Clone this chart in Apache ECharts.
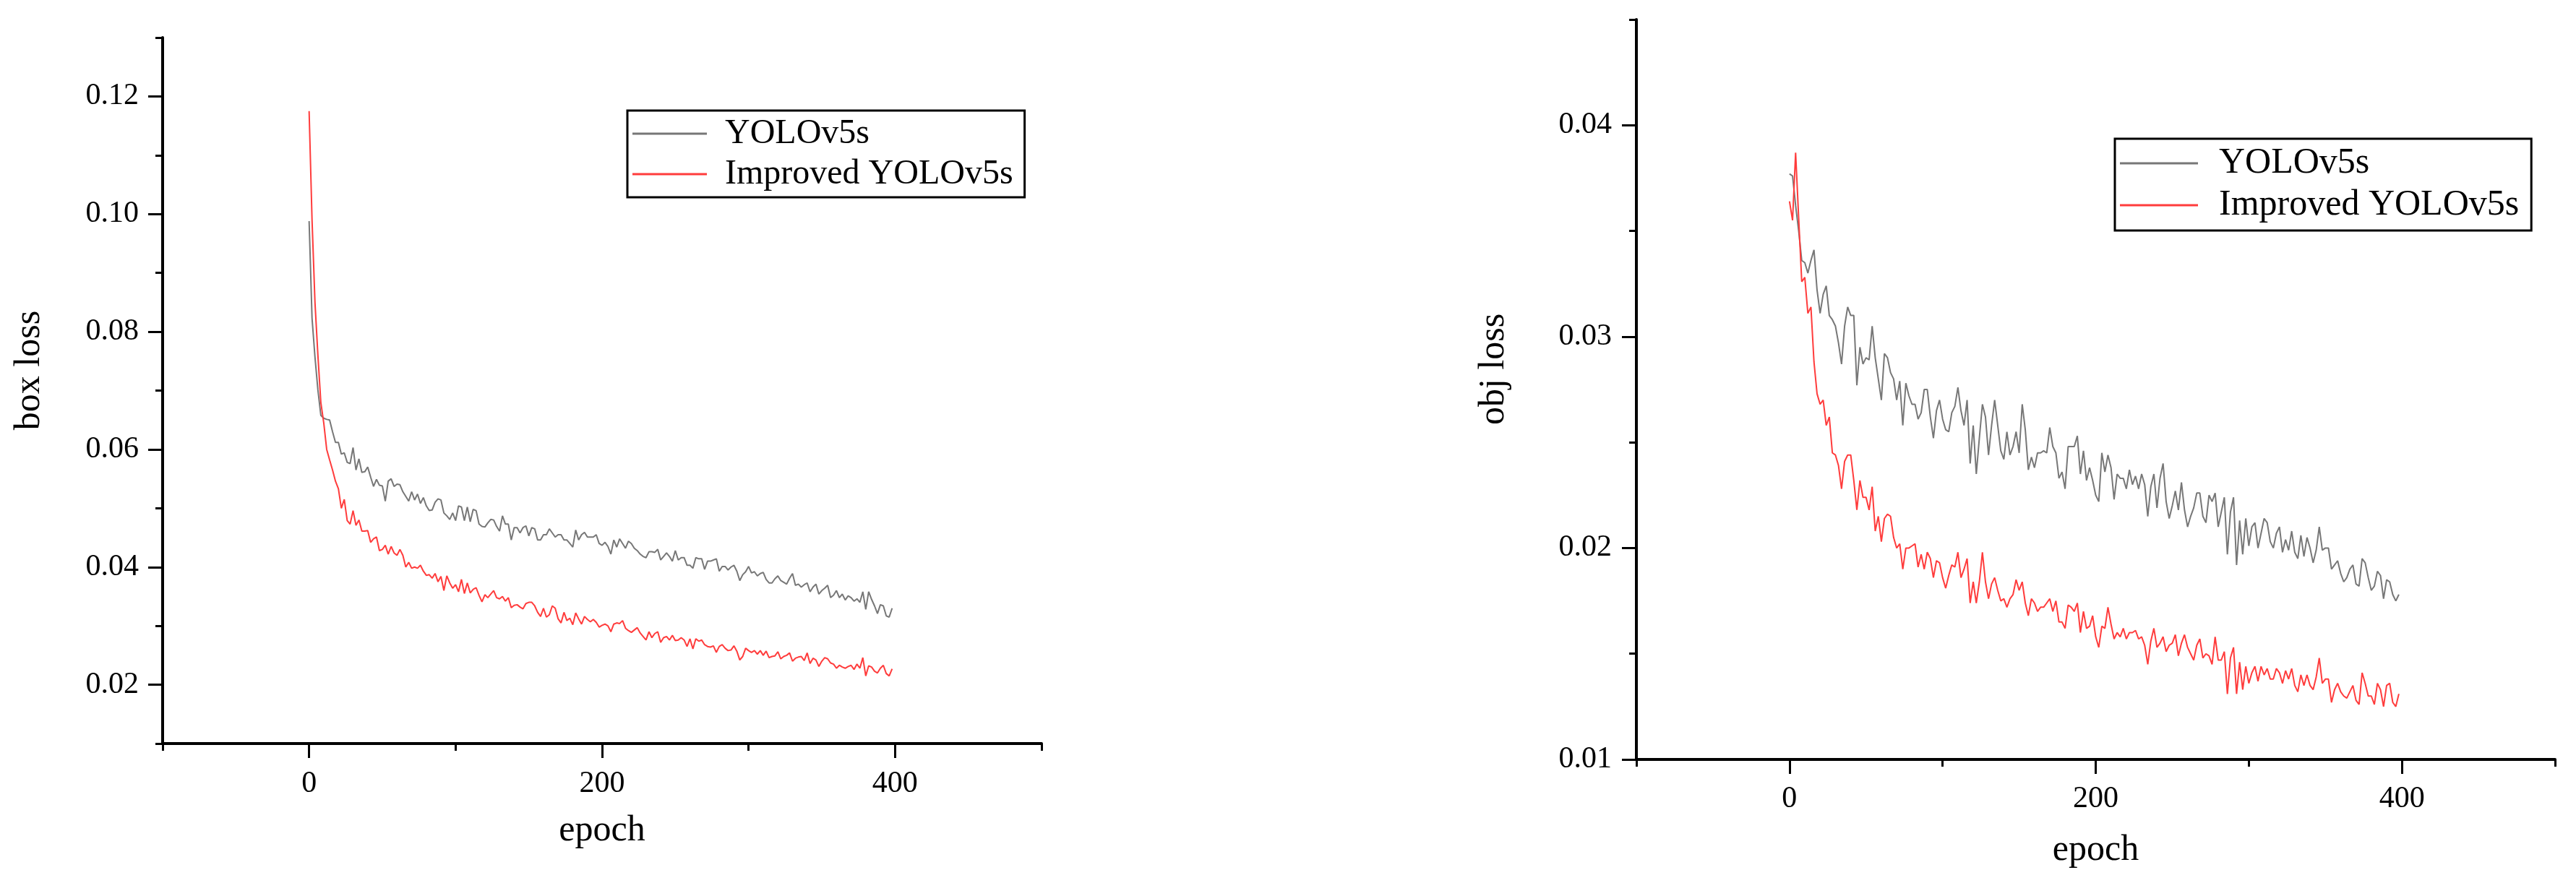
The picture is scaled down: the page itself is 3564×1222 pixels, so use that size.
<!DOCTYPE html>
<html>
<head>
<meta charset="utf-8">
<script src="https://cdn.jsdelivr.net/npm/echarts@6/dist/echarts.min.js"></script>
<style>
html,body{margin:0;padding:0;background:#fff;}
#chart{width:3564px;height:1222px;}
</style>
</head>
<body>
<div id="chart"></div>
<script>
// ---- data (one value every 2 epochs) ----
const EPOCH_STEP = 2;
const SERIES_NAMES = ['YOLOv5s', 'Improved YOLOv5s'];
const X_TICK_LABELS = [0, 200, 400];
const BOX_Y_TICK_LABELS = [0.02, 0.04, 0.06, 0.08, 0.10, 0.12];
const OBJ_Y_TICK_LABELS = [0.01, 0.02, 0.03, 0.04];

const boxLossYOLO = [
0.0988,0.0823,0.0757,0.0701,0.0658,0.0653,0.0651,0.0650,0.0630,0.0612,
0.0612,0.0592,0.0594,0.0578,0.0576,0.0603,0.0565,0.0584,0.0561,0.0562,
0.0570,0.0553,0.0537,0.0549,0.0539,0.0538,0.0512,0.0546,0.0550,0.0537,
0.0541,0.0540,0.0528,0.0520,0.0512,0.0528,0.0514,0.0524,0.0508,0.0518,
0.0504,0.0496,0.0497,0.0510,0.0516,0.0514,0.0492,0.0487,0.0481,0.0492,
0.0479,0.0504,0.0502,0.0479,0.0502,0.0477,0.0498,0.0496,0.0473,0.0469,
0.0468,0.0475,0.0481,0.0480,0.0469,0.0461,0.0487,0.0473,0.0473,0.0446,
0.0467,0.0467,0.0458,0.0467,0.0470,0.0453,0.0467,0.0465,0.0446,0.0446,
0.0455,0.0455,0.0465,0.0458,0.0451,0.0455,0.0455,0.0446,0.0446,0.0440,
0.0434,0.0463,0.0446,0.0455,0.0459,0.0451,0.0451,0.0451,0.0455,0.0440,
0.0437,0.0442,0.0435,0.0422,0.0446,0.0434,0.0448,0.0440,0.0432,0.0444,
0.0440,0.0432,0.0428,0.0422,0.0418,0.0416,0.0426,0.0426,0.0425,0.0430,
0.0412,0.0418,0.0424,0.0418,0.0410,0.0428,0.0412,0.0416,0.0416,0.0403,
0.0403,0.0398,0.0416,0.0414,0.0414,0.0396,0.0410,0.0410,0.0412,0.0414,
0.0393,0.0401,0.0401,0.0395,0.0400,0.0403,0.0393,0.0377,0.0387,0.0392,
0.0401,0.0390,0.0392,0.0385,0.0389,0.0391,0.0379,0.0373,0.0373,0.0380,
0.0385,0.0377,0.0374,0.0371,0.0381,0.0389,0.0369,0.0371,0.0366,0.0370,
0.0373,0.0358,0.0366,0.0371,0.0354,0.0360,0.0364,0.0369,0.0348,0.0352,
0.0360,0.0348,0.0354,0.0344,0.0351,0.0348,0.0342,0.0346,0.0340,0.0358,
0.0328,0.0358,0.0345,0.0334,0.0321,0.0336,0.0334,0.0317,0.0315,0.0330
];
const boxLossImproved = [
0.1175,0.0990,0.0850,0.0760,0.0680,0.0645,0.0600,0.0582,0.0565,0.0546,
0.0533,0.0500,0.0515,0.0479,0.0473,0.0496,0.0471,0.0480,0.0461,0.0461,
0.0462,0.0442,0.0448,0.0451,0.0428,0.0430,0.0437,0.0422,0.0435,0.0424,
0.0420,0.0430,0.0420,0.0400,0.0408,0.0398,0.0400,0.0398,0.0403,0.0393,
0.0386,0.0387,0.0381,0.0389,0.0375,0.0384,0.0360,0.0385,0.0373,0.0364,
0.0370,0.0358,0.0379,0.0355,0.0373,0.0356,0.0362,0.0365,0.0352,0.0341,
0.0353,0.0348,0.0354,0.0360,0.0348,0.0346,0.0350,0.0342,0.0348,0.0331,
0.0335,0.0336,0.0332,0.0329,0.0338,0.0340,0.0340,0.0334,0.0323,0.0316,
0.0330,0.0315,0.0319,0.0334,0.0330,0.0312,0.0305,0.0323,0.0309,0.0313,
0.0302,0.0322,0.0312,0.0303,0.0316,0.0311,0.0307,0.0311,0.0306,0.0298,
0.0301,0.0303,0.0300,0.0290,0.0303,0.0305,0.0304,0.0309,0.0296,0.0292,
0.0289,0.0293,0.0297,0.0288,0.0282,0.0276,0.0290,0.0280,0.0287,0.0290,
0.0272,0.0280,0.0282,0.0276,0.0284,0.0275,0.0276,0.0280,0.0276,0.0265,
0.0278,0.0261,0.0278,0.0274,0.0276,0.0268,0.0265,0.0264,0.0266,0.0255,
0.0265,0.0268,0.0262,0.0258,0.0259,0.0266,0.0257,0.0242,0.0248,0.0262,
0.0258,0.0255,0.0258,0.0252,0.0258,0.0250,0.0257,0.0246,0.0248,0.0249,
0.0256,0.0244,0.0248,0.0250,0.0254,0.0240,0.0245,0.0247,0.0248,0.0241,
0.0254,0.0236,0.0245,0.0242,0.0231,0.0240,0.0246,0.0244,0.0237,0.0235,
0.0228,0.0233,0.0230,0.0228,0.0231,0.0233,0.0226,0.0235,0.0228,0.0246,
0.0215,0.0232,0.0230,0.0223,0.0220,0.0228,0.0233,0.0219,0.0215,0.0227
];
const objLossYOLO = [
0.0377,0.0376,0.0362,0.0350,0.0336,0.0335,0.0330,0.0336,0.0341,0.0322,
0.0311,0.0320,0.0324,0.0310,0.0308,0.0305,0.0297,0.0287,0.0305,0.0314,
0.0310,0.0310,0.0277,0.0295,0.0287,0.0290,0.0289,0.0305,0.0290,0.0280,
0.0270,0.0292,0.0290,0.0283,0.0280,0.0270,0.0279,0.0258,0.0278,0.0272,
0.0268,0.0268,0.0261,0.0264,0.0275,0.0275,0.0262,0.0252,0.0265,0.0270,
0.0261,0.0256,0.0255,0.0264,0.0267,0.0276,0.0265,0.0258,0.0270,0.0240,
0.0258,0.0235,0.0252,0.0268,0.0262,0.0244,0.0258,0.0270,0.0258,0.0246,
0.0242,0.0255,0.0244,0.0248,0.0255,0.0245,0.0268,0.0256,0.0237,0.0243,
0.0238,0.0245,0.0245,0.0246,0.0245,0.0257,0.0248,0.0245,0.0233,0.0236,
0.0228,0.0248,0.0248,0.0248,0.0253,0.0235,0.0246,0.0232,0.0238,0.0232,
0.0225,0.0222,0.0245,0.0236,0.0244,0.0238,0.0223,0.0235,0.0233,0.0233,
0.0228,0.0237,0.0230,0.0234,0.0228,0.0235,0.0230,0.0215,0.0229,0.0235,
0.0219,0.0233,0.0240,0.0222,0.0214,0.0220,0.0227,0.0218,0.0231,0.0218,
0.0210,0.0215,0.0219,0.0226,0.0226,0.0215,0.0212,0.0225,0.0222,0.0226,
0.0210,0.0217,0.0224,0.0197,0.0217,0.0224,0.0192,0.0213,0.0197,0.0214,
0.0201,0.0210,0.0212,0.0200,0.0207,0.0214,0.0212,0.0203,0.0200,0.0207,
0.0210,0.0198,0.0204,0.0199,0.0208,0.0198,0.0195,0.0206,0.0196,0.0205,
0.0200,0.0193,0.0199,0.0210,0.0199,0.0200,0.0200,0.0190,0.0192,0.0194,
0.0188,0.0184,0.0186,0.0190,0.0192,0.0183,0.0182,0.0195,0.0193,0.0186,
0.0180,0.0182,0.0189,0.0187,0.0176,0.0185,0.0184,0.0178,0.0175,0.0178
];
const objLossImproved = [
0.0364,0.0355,0.0387,0.0356,0.0326,0.0328,0.0311,0.0314,0.0288,0.0273,
0.0268,0.0270,0.0258,0.0262,0.0245,0.0244,0.0239,0.0228,0.0241,0.0244,
0.0244,0.0232,0.0218,0.0232,0.0224,0.0224,0.0218,0.0229,0.0208,0.0215,
0.0203,0.0214,0.0216,0.0215,0.0205,0.0200,0.0202,0.0190,0.0200,0.0200,
0.0201,0.0202,0.0191,0.0197,0.0190,0.0198,0.0195,0.0186,0.0194,0.0193,
0.0186,0.0181,0.0187,0.0192,0.0191,0.0198,0.0186,0.0190,0.0195,0.0174,
0.0184,0.0174,0.0184,0.0198,0.0184,0.0176,0.0183,0.0186,0.0180,0.0175,
0.0176,0.0172,0.0176,0.0178,0.0185,0.0180,0.0184,0.0174,0.0168,0.0176,
0.0174,0.0170,0.0172,0.0172,0.0174,0.0176,0.0170,0.0175,0.0165,0.0165,
0.0162,0.0173,0.0172,0.0170,0.0174,0.0160,0.0170,0.0162,0.0163,0.0168,
0.0158,0.0153,0.0163,0.0162,0.0172,0.0164,0.0157,0.0160,0.0158,0.0162,
0.0157,0.0160,0.0160,0.0161,0.0157,0.0158,0.0154,0.0145,0.0156,0.0162,
0.0153,0.0155,0.0158,0.0151,0.0154,0.0155,0.0159,0.0149,0.0155,0.0159,
0.0153,0.0150,0.0147,0.0154,0.0157,0.0148,0.0150,0.0149,0.0145,0.0158,
0.0147,0.0147,0.0151,0.0131,0.0148,0.0153,0.0131,0.0146,0.0133,0.0144,
0.0136,0.0141,0.0144,0.0137,0.0144,0.0140,0.0143,0.0138,0.0138,0.0143,
0.0141,0.0136,0.0142,0.0138,0.0143,0.0135,0.0132,0.0140,0.0135,0.0140,
0.0135,0.0133,0.0139,0.0148,0.0136,0.0138,0.0138,0.0127,0.0133,0.0136,
0.0132,0.0130,0.0129,0.0132,0.0135,0.0128,0.0126,0.0141,0.0136,0.0130,
0.0130,0.0126,0.0136,0.0133,0.0125,0.0135,0.0136,0.0127,0.0125,0.0131
];

// ---- styling ----
const FONT = 'Liberation Serif';
const GRAY = '#777777';
const RED = '#ff3c3c';
const AXIS_W = 4;
const TICK_W = 3;

function toPairs(arr) { return arr.map((v, i) => [i * EPOCH_STEP, v]); }

function xAxes(gridIndex, labelMargin, nameGap) {
  const common = { type: 'value', gridIndex, min: -100, max: 500, position: 'bottom', splitLine: { show: false } };
  return [
    Object.assign({}, common, {
      interval: 100,
      axisLine: { show: true, onZero: false, lineStyle: { color: '#000', width: AXIS_W } },
      axisTick: { show: true, length: 10, lineStyle: { color: '#000', width: TICK_W } },
      axisLabel: { customValues: X_TICK_LABELS, margin: labelMargin, color: '#000', fontFamily: FONT, fontSize: 42 },
      name: 'epoch', nameLocation: 'middle', nameGap: nameGap,
      nameTextStyle: { color: '#000', fontFamily: FONT, fontSize: 50 }
    }),
    Object.assign({}, common, {
      interval: 100,
      axisLine: { show: false, onZero: false },
      axisTick: { show: true, customValues: X_TICK_LABELS, length: 20, lineStyle: { color: '#000', width: TICK_W } },
      axisLabel: { show: false }
    })
  ];
}

function yAxes(gridIndex, min, max, interval, labels, name, nameGap, labelMargin) {
  const common = { type: 'value', gridIndex, min, max, position: 'left', splitLine: { show: false } };
  return [
    Object.assign({}, common, {
      interval,
      axisLine: { show: true, onZero: false, lineStyle: { color: '#000', width: AXIS_W } },
      axisTick: { show: true, length: 10, lineStyle: { color: '#000', width: TICK_W } },
      axisLabel: { customValues: labels, margin: labelMargin, color: '#000', fontFamily: FONT, fontSize: 42,
                   formatter: v => Number(v).toFixed(2) },
      name, nameLocation: 'middle', nameGap,
      nameTextStyle: { color: '#000', fontFamily: FONT, fontSize: 50, padding: [0, 0, 0, 56] }
    }),
    Object.assign({}, common, {
      interval,
      axisLine: { show: false, onZero: false },
      axisTick: { show: true, customValues: labels, length: 20, lineStyle: { color: '#000', width: TICK_W } },
      axisLabel: { show: false }
    })
  ];
}

function lineSeries(name, data, color, xi, yi) {
  return {
    name, type: 'line', data: toPairs(data), xAxisIndex: xi, yAxisIndex: yi,
    showSymbol: false, symbol: 'none', color,
    lineStyle: { color, width: 2 }, silent: true, animation: false
  };
}

function legend(left, top, itemWidth, fontSize, padding, textGap) {
  return {
    left, top, orient: 'vertical', data: SERIES_NAMES, icon: 'rect',
    itemWidth, itemHeight: 3, itemGap: 8, padding,
    borderColor: '#000', borderWidth: 3, backgroundColor: '#fff',
    textStyle: { color: '#000', fontFamily: FONT, fontSize, lineHeight: fontSize, padding: [0, 0, 0, textGap] },
    selectedMode: false
  };
}

const chart = echarts.init(document.getElementById('chart'), null, { renderer: 'canvas' });
chart.setOption({
  animation: false,
  backgroundColor: '#fff',
  grid: [
    { left: 225, top: 52, width: 1216, height: 977, containLabel: false },
    { left: 2264, top: 27, width: 1271, height: 1024, containLabel: false }
  ],
  xAxis: [].concat(xAxes(0, 35, 96), xAxes(1, 34, 101)),
  yAxis: [].concat(
    yAxes(0, 0.01, 0.13, 0.01, BOX_Y_TICK_LABELS, 'box loss', 159, 33),
    yAxes(1, 0.01, 0.045, 0.005, OBJ_Y_TICK_LABELS, 'obj loss', 172, 34)
  ),
  legend: [
    legend(868, 153, 103, 48, [8, 16, 8, 7], 20),
    legend(2926, 192, 108, 50, [9, 17, 10, 7], 24)
  ],
  series: [
    lineSeries(SERIES_NAMES[0], boxLossYOLO, GRAY, 0, 0),
    lineSeries(SERIES_NAMES[1], boxLossImproved, RED, 0, 0),
    lineSeries(SERIES_NAMES[0], objLossYOLO, GRAY, 2, 2),
    lineSeries(SERIES_NAMES[1], objLossImproved, RED, 2, 2)
  ]
});
</script>
</body>
</html>
